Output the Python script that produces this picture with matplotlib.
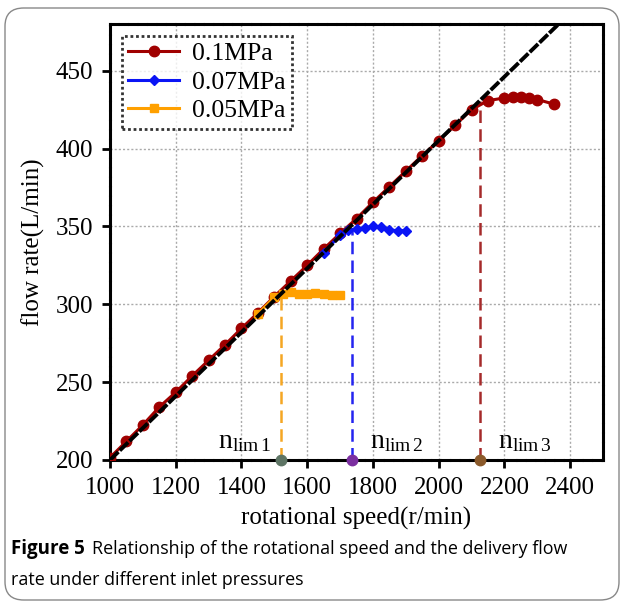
import matplotlib
matplotlib.use("Agg")
import matplotlib.pyplot as plt
from matplotlib.patches import FancyBboxPatch

plt.rcParams['font.family'] = ['Liberation Serif', 'DejaVu Serif']
plt.rcParams['mathtext.fontset'] = 'custom'
plt.rcParams['mathtext.rm'] = 'Liberation Serif'
plt.rcParams['mathtext.it'] = 'Liberation Serif:italic'

# ---- data ----
speed_01 = [1000, 1050, 1100, 1150, 1200, 1250, 1300, 1350, 1400, 1450, 1500, 1550, 1600,
            1650, 1700, 1750, 1800, 1850, 1900, 1950, 2000, 2050, 2100, 2150, 2200, 2225,
            2250, 2275, 2300, 2350]
flow_01 = [201.5, 212, 222.5, 234, 243.5, 254, 264, 274, 284.5, 294.5, 305, 315, 325,
           335.5, 345.5, 355, 365.5, 375.5, 385.5, 395.5, 405, 415, 425, 430.8, 432.5, 432.8,
           433, 432.5, 431.5, 428.6]
speed_007 = [1650, 1700, 1725, 1750, 1775, 1800, 1825, 1850, 1875, 1900]
flow_007 = [333, 344.5, 347.7, 348.2, 348.8, 350.3, 349.5, 347.7, 347.3, 347.3]
speed_005 = [1450, 1500, 1525, 1550, 1575, 1600, 1625, 1650, 1675, 1700]
flow_005 = [293.8, 304.5, 306.6, 308, 306.6, 306.6, 307.4, 306.6, 305.8, 305.8]
theory_speed = [1000, 2370]
theory_flow = [200, 481]
n_lim = [1520, 1735, 2127]
n_lim_flow = [305, 347.5, 430.5]
n_lim_labels = [r'$\mathrm{n}_{\mathrm{lim\,1}}$', r'$\mathrm{n}_{\mathrm{lim\,2}}$',
                r'$\mathrm{n}_{\mathrm{lim\,3}}$']
x_ticks = [1000, 1200, 1400, 1600, 1800, 2000, 2200, 2400]
y_ticks = [200, 250, 300, 350, 400, 450]

fig = plt.figure(figsize=(6.24, 6.06), dpi=100)
ax = fig.add_axes([110/624, 1-460/606, 493/624, 436/606])

ax.grid(True, color='#aaaaaa', linestyle=(0, (1.5, 1.5)), linewidth=1.0)
ax.set_axisbelow(True)

l1, = ax.plot(speed_01, flow_01, color='#A00000', linewidth=2.2, marker='o',
              markersize=7.5, label='0.1MPa', zorder=3)
l2, = ax.plot(speed_007, flow_007, color='#0A14F5', linewidth=2.2, marker='D',
              markersize=5, label='0.07MPa', zorder=4)
l3, = ax.plot(speed_005, flow_005, color='#FFA000', linewidth=2.2, marker='s',
              markersize=6, label='0.05MPa', zorder=4)
ax.plot(theory_speed, theory_flow, color='black', linewidth=2.8,
        linestyle=(0, (3, 0.5)), zorder=5)

vcolors = ['#F5A623', '#2424F0', '#A52A2A']
mcolors = ['#5E7565', '#7B2FA0', '#8B5A2B']
label_x = [1330, 1790, 2180]
for i in range(3):
    ax.plot([n_lim[i], n_lim[i]], [200, n_lim_flow[i]], color=vcolors[i],
            linewidth=1.8, linestyle=(0, (5, 2.5)), zorder=2)
    ax.plot([n_lim[i]], [200], marker='o', markersize=7.5, color=mcolors[i],
            clip_on=False, zorder=6)
    ax.text(label_x[i], 204, n_lim_labels[i], fontsize=20, ha='left', va='bottom')

ax.set_xlim(1000, 2500)
ax.set_ylim(200, 480)
ax.set_xticks(x_ticks)
ax.set_yticks(y_ticks)
ax.tick_params(axis='both', direction='out', length=6, width=2, labelsize=18, pad=6)
for s in ax.spines.values():
    s.set_linewidth(2.2)
    s.set_linestyle((0, (2.5, 0.6)))

ax.set_xlabel('rotational speed(r/min)', fontsize=18, labelpad=6)
ax.set_ylabel('flow rate(L/min)', fontsize=18, labelpad=8)

leg = ax.legend(handles=[l1, l2, l3], loc='upper left', fontsize=18.5, frameon=True,
                fancybox=False, borderaxespad=0.45, handlelength=2.0, labelspacing=0.22,
                borderpad=0.25, handletextpad=0.5)
leg.get_frame().set_edgecolor('black')
leg.get_frame().set_linewidth(2)
leg.get_frame().set_linestyle((0, (1, 1)))

# caption and border
border = FancyBboxPatch((5/624, 6/606), 614/624, 592/606, transform=fig.transFigure,
                        boxstyle='round,pad=0,rounding_size=0.03', facecolor='none',
                        edgecolor='#888888', linewidth=1.0)
fig.patches.append(border)
cap_font = ['Open Sans', 'DejaVu Sans']
fig.text(11/624, 1-549/606, 'Figure 5', fontsize=13.5, fontweight='bold',
         family=cap_font, va='center', ha='left')
fig.text(92/624, 1-549/606, 'Relationship of the rotational speed and the delivery flow',
         fontsize=12.9, family=cap_font, va='center', ha='left')
fig.text(11/624, 1-580/606, 'rate under different inlet pressures',
         fontsize=12.9, family=cap_font, va='center', ha='left')

fig.savefig('out.png', dpi=100)
